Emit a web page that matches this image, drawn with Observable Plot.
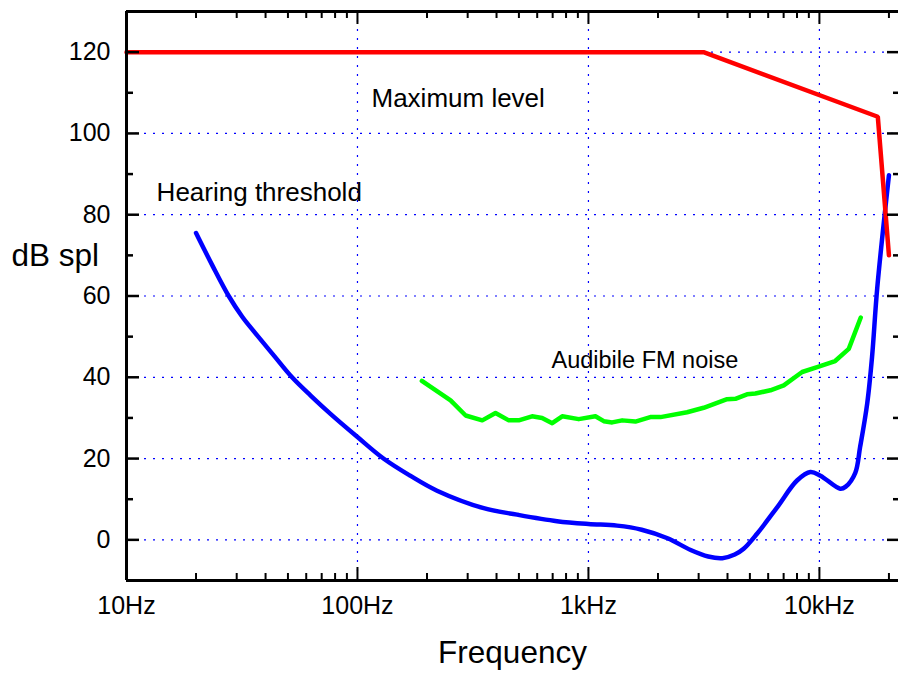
<!DOCTYPE html>
<html>
<head>
<meta charset="utf-8">
<script src="https://cdn.jsdelivr.net/npm/d3@7"></script>
<script src="https://cdn.jsdelivr.net/npm/@observablehq/plot@0.6"></script>
<style>
  html, body { margin: 0; padding: 0; background: #fff; }
  #chart { width: 898px; height: 675px; }
</style>
</head>
<body>
<div id="chart"></div>
<script>
// ---- Data ----
const hearingFreq  = [20, 23.5, 27.7, 31.7, 35.6, 43.4, 52.1, 62.7, 76.4, 100, 130, 169, 221, 352, 491, 731, 1000, 1330, 1700, 2200, 2770, 3300, 3800, 4300, 4700, 5370, 6560, 8000, 9140, 10100, 12300, 13000, 14300, 15000, 16100, 16900, 17800, 20000];
const hearingLevel = [75.5, 67.6, 60, 54.9, 51.3, 45.4, 40.0, 35.5, 31.0, 25.3, 19.95, 15.8, 12.1, 7.8, 6.2, 4.6, 3.9, 3.5, 2.5, 0.4, -2.5, -4.1, -4.5, -3.6, -2.2, 1.5, 8.0, 14.6, 16.7, 15.8, 12.6, 13.1, 16.5, 22.8, 33.5, 45, 62, 89.7];

const noiseFreq  = [190, 253, 294, 347, 396, 452, 499, 570, 630, 697, 770, 908, 1072, 1165, 1267, 1400, 1597, 1853, 2050, 2674, 3155, 3984, 4327, 4860, 5280, 6135, 7010, 8420, 9780, 11700, 13400, 15100];
const noiseLevel = [39.1, 34.3, 30.6, 29.4, 31.2, 29.4, 29.4, 30.4, 30.0, 28.7, 30.4, 29.7, 30.4, 29.2, 28.9, 29.4, 29.1, 30.2, 30.2, 31.4, 32.5, 34.6, 34.7, 35.8, 36.0, 36.8, 38.0, 41.3, 42.5, 44.0, 47.0, 54.7];

const maxFreq  = [10, 3150, 17900, 20000];
const maxLevel = [120, 120, 104.1, 70];

const xDomain = [10, 22000];
const yDomain = [-10, 130];
const xMajorTicks = [10, 100, 1000, 10000];
const xTickLabels = ["10Hz", "100Hz", "1kHz", "10kHz"];
const xMinorTicks = [20, 30, 40, 50, 60, 70, 80, 90, 200, 300, 400, 500, 600, 700, 800, 900, 2000, 3000, 4000, 5000, 6000, 7000, 8000, 9000, 20000];
const xGridTicks = [100, 1000, 10000];
const yMajorTicks = [0, 20, 40, 60, 80, 100, 120];
const yMinorTicks = [10, 30, 50, 70, 90, 110];

const annoText  = ["Maximum level", "Hearing threshold", "Audibile FM noise"];
const annoFreq  = [115, 13.5, 692];
const annoLevel = [106.5, 83.3, 42.2];

// ---- Build ----
const hearing = hearingFreq.map((f, i) => ({f, v: hearingLevel[i]}));
const noise = noiseFreq.map((f, i) => ({f, v: noiseLevel[i]}));
const maxLine = maxFreq.map((f, i) => ({f, v: maxLevel[i]}));
const annos = annoText.map((t, i) => ({t, f: annoFreq[i], v: annoLevel[i]}));

const W = 898, H = 675;
const mL = 126, mR = 0, mT = 11, mB = 95;
const pW = W - mL - mR, pH = H - mT - mB;
const font = "'Liberation Sans', Arial, Helvetica, sans-serif";

const chart = Plot.plot({
  width: W, height: H,
  marginLeft: mL, marginRight: mR, marginTop: mT, marginBottom: mB,
  style: {fontFamily: font, background: "white", color: "black", overflow: "visible"},
  x: {type: "log", domain: xDomain, axis: null},
  y: {domain: yDomain, axis: null},
  marks: [
    // grid
    Plot.ruleY(yMajorTicks, {y: d => d, stroke: "#0000ff", strokeWidth: 1.2, strokeDasharray: "2,7"}),
    Plot.ruleX(xGridTicks, {x: d => d, stroke: "#0000ff", strokeWidth: 1.2, strokeDasharray: "2,7"}),
    // data lines
    Plot.line(hearing, {x: "f", y: "v", stroke: "#0000ff", strokeWidth: 4.5, curve: "catmull-rom", strokeLinecap: "round"}),
    Plot.line(noise, {x: "f", y: "v", stroke: "#00ff00", strokeWidth: 4.5, strokeLinejoin: "round"}),
    Plot.line(maxLine, {x: "f", y: "v", stroke: "#ff0000", strokeWidth: 4.5, strokeLinejoin: "miter"}),
    // frame lines
    Plot.ruleY([yDomain[0]], {y: d => d, stroke: "black", strokeWidth: 3}),
    Plot.ruleY([yDomain[1]], {y: d => d, stroke: "black", strokeWidth: 3}),
    Plot.ruleX([xDomain[0]], {x: d => d, stroke: "black", strokeWidth: 3}),
    // bottom ticks (inward)
    Plot.ruleX(xMajorTicks, {x: d => d, insetTop: pH - 13, stroke: "black", strokeWidth: 2}),
    Plot.ruleX(xMinorTicks, {x: d => d, insetTop: pH - 7, stroke: "black", strokeWidth: 2}),
    // top ticks (inward)
    Plot.ruleX(xMajorTicks, {x: d => d, insetBottom: pH - 13, stroke: "black", strokeWidth: 2}),
    Plot.ruleX(xMinorTicks, {x: d => d, insetBottom: pH - 7, stroke: "black", strokeWidth: 2}),
    // left ticks
    Plot.ruleY(yMajorTicks, {y: d => d, insetRight: pW - 13, stroke: "black", strokeWidth: 2.5}),
    Plot.ruleY(yMinorTicks, {y: d => d, insetRight: pW - 7, stroke: "black", strokeWidth: 2.5}),
    // right ticks
    Plot.ruleY(yMajorTicks, {y: d => d, insetLeft: pW - 11, stroke: "black", strokeWidth: 2.5}),
    Plot.ruleY(yMinorTicks, {y: d => d, insetLeft: pW - 5, stroke: "black", strokeWidth: 2.5}),
    // tick labels
    Plot.text(xMajorTicks, {x: d => d, frameAnchor: "bottom", dy: 16, lineAnchor: "top", text: (d, i) => xTickLabels[i], fontSize: 25, fill: "black"}),
    Plot.text(yMajorTicks, {y: d => d, frameAnchor: "left", dx: -16, textAnchor: "end", lineAnchor: "middle", text: d => String(d), fontSize: 25, fill: "black"}),
    // axis titles
    Plot.text(["dB spl"], {frameAnchor: "top-left", dx: -115, dy: 265 - mT, textAnchor: "start", lineAnchor: "bottom", fontSize: 31.5, fill: "black"}),
    Plot.text(["Frequency"], {frameAnchor: "bottom", dy: 662 - (H - mB), lineAnchor: "bottom", fontSize: 31.5, fill: "black"}),
    // annotations
    Plot.text(annos, {x: "f", y: "v", text: "t", textAnchor: "start", lineAnchor: "bottom", fontSize: (d, i) => i === 2 ? 23.5 : 26, fill: "black"})
  ]
});
document.getElementById("chart").appendChild(chart);
</script>
</body>
</html>
